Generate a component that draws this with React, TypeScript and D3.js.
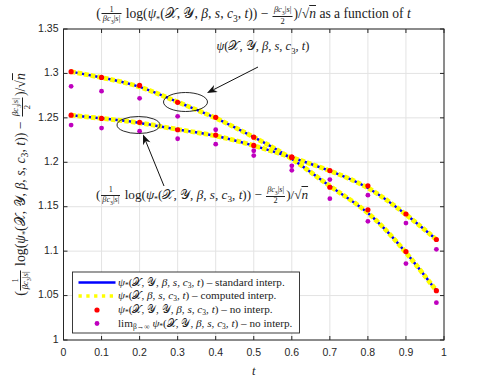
import React from 'react';
import * as d3 from 'd3';

// sample points in t
const tValues = [0.02, 0.1, 0.2, 0.3, 0.4, 0.5, 0.6, 0.7, 0.8, 0.9, 0.98];
// curve starting near 1.30 (falls faster)
const psiFast = [1.302, 1.2955, 1.2865, 1.2675, 1.2506, 1.2283, 1.2057, 1.1719, 1.1465, 1.0995, 1.0555];
const limFast = [1.2855, 1.280, 1.272, 1.2517, 1.2366, 1.213, 1.191, 1.159, 1.1336, 1.086, 1.042];
// curve starting near 1.25 (falls slower)
const psiSlow = [1.253, 1.2494, 1.245, 1.2366, 1.2306, 1.219, 1.2057, 1.1907, 1.1735, 1.1418, 1.1131];
const limSlow = [1.2419, 1.2385, 1.235, 1.2265, 1.2204, 1.2075, 1.196, 1.1805, 1.163, 1.1316, 1.102];

const xTicks = [0, 0.1, 0.2, 0.3, 0.4, 0.5, 0.6, 0.7, 0.8, 0.9, 1];
const yTicks = [1, 1.05, 1.1, 1.15, 1.2, 1.25, 1.3, 1.35];

const W = 491, H = 382;
const left = 63.5, right = 444, top = 29, bottom = 340;
const serif = '"Liberation Serif", "DejaVu Serif", serif';
const sans = '"Liberation Sans", Arial, sans-serif';

const x = d3.scaleLinear().domain([0, 1]).range([left, right]);
const y = d3.scaleLinear().domain([1, 1.35]).range([bottom, top]);

const line = d3.line<number>()
  .x((_, i) => x(tValues[i]))
  .y(d => y(d))
  .curve(d3.curveBasis);

// stacked fraction for the html math labels
const Frac = ({ num, den }: { num: React.ReactNode; den: React.ReactNode }) => (
  <span style={{ display: 'inline-flex', flexDirection: 'column', verticalAlign: 'middle', textAlign: 'center', fontSize: '0.62em', lineHeight: 1.05, margin: '0 1px' }}>
    <span style={{ borderBottom: '0.7px solid #222', padding: '0 1px' }}>{num}</span>
    <span style={{ padding: '0 1px' }}>{den}</span>
  </span>
);

const BC = () => <><i>βc</i><sub style={{ fontSize: '0.7em' }}>3</sub>|<i>s</i>|</>;

const MainExpr = () => (
  <span>
    (<Frac num="1" den={<BC />} /> log(<i>ψ</i><sub style={{ fontSize: '0.6em' }}>*</sub>(𝒳, 𝒴, <i>β</i>, <i>s</i>, <i>c</i><sub style={{ fontSize: '0.7em' }}>3</sub>, <i>t</i>)) − <Frac num={<BC />} den="2" />)/√<span style={{ textDecoration: 'overline' }}><i>n</i></span>
  </span>
);

const MathBox = ({ cx, cy, w, h, size, children, rotate }: any) => (
  <g transform={`translate(${cx},${cy})${rotate ? ` rotate(${rotate})` : ''}`}>
    <foreignObject x={-w / 2} y={-h / 2} width={w} height={h}>
      <div style={{ width: w, height: h, display: 'flex', alignItems: 'center', justifyContent: 'center', fontFamily: serif, fontSize: size, color: '#222', whiteSpace: 'nowrap' }}>
        {children}
      </div>
    </foreignObject>
  </g>
);

type Part = { s: string; it?: boolean; sub?: boolean };
const LegendText = ({ xPos, yPos, parts }: { xPos: number; yPos: number; parts: Part[] }) => {
  let shifted = false;
  return (
    <text x={xPos} y={yPos} fontFamily={serif} fontSize={11.2} fill="#222" dominantBaseline="middle">
      {parts.map((p, i) => {
        let dy = 0;
        if (p.sub && !shifted) { dy = 3; shifted = true; }
        else if (!p.sub && shifted) { dy = -3; shifted = false; }
        return (
          <tspan key={i} dy={dy} fontStyle={p.it ? 'italic' : 'normal'} fontSize={p.sub ? 7.5 : 11.2}>{p.s}</tspan>
        );
      })}
    </text>
  );
};

const args = (withY: number): Part[] => {
  const ys: Part[] = [];
  for (let k = 0; k < withY; k++) ys.push({ s: '𝒴' }, { s: ', ' });
  return [
    { s: 'ψ', it: true }, { s: '*', sub: true }, { s: '(' }, { s: '𝒳' }, { s: ', ' },
    ...ys,
    { s: 'β', it: true }, { s: ', ' }, { s: 's', it: true }, { s: ', ' }, { s: 'c', it: true }, { s: '3', sub: true },
    { s: ', ' }, { s: 't', it: true }, { s: ')' },
  ];
};

const legendRows: { parts: Part[] }[] = [
  { parts: [...args(1), { s: ' – standard interp.' }] },
  { parts: [...args(0), { s: ' – computed interp.' }] },
  { parts: [...args(2), { s: ' – no interp.' }] },
  { parts: [{ s: 'lim' }, { s: 'β→∞', sub: true }, { s: ' ' }, ...args(1), { s: ' – no interp.' }] },
];

const Arrow = ({ x1, y1, x2, y2 }: { x1: number; y1: number; x2: number; y2: number }) => {
  const a = Math.atan2(y2 - y1, x2 - x1);
  const L = 10, Wd = 4;
  const bx = x2 - L * Math.cos(a), by = y2 - L * Math.sin(a);
  const nx = -Math.sin(a), ny = Math.cos(a);
  const ix = x2 - 0.7 * L * Math.cos(a), iy = y2 - 0.7 * L * Math.sin(a);
  const head = `M${x2},${y2} L${bx + nx * Wd},${by + ny * Wd} L${ix},${iy} L${bx - nx * Wd},${by - ny * Wd} Z`;
  return (
    <g>
      <line x1={x1} y1={y1} x2={ix} y2={iy} stroke="#111" strokeWidth={1} />
      <path d={head} fill="#111" />
    </g>
  );
};

export default function App() {
  const curves = [psiFast, psiSlow];
  return (
    <svg width={W} height={H} style={{ position: 'absolute', left: 0, top: 0, background: '#fff' }}>
      <rect x={0} y={0} width={W} height={H} fill="#fff" />
      {/* grid */}
      {xTicks.map(t => (
        <line key={'gx' + t} x1={x(t)} x2={x(t)} y1={top} y2={bottom} stroke="#e3e3e3" strokeWidth={1} />
      ))}
      {yTicks.map(v => (
        <line key={'gy' + v} x1={left} x2={right} y1={y(v)} y2={y(v)} stroke="#e3e3e3" strokeWidth={1} />
      ))}

      {/* curves */}
      {curves.map((c, i) => (
        <g key={'c' + i}>
          <path d={line(c) || ''} fill="none" stroke="#0000ff" strokeWidth={2.5} />
          <path d={line(c) || ''} fill="none" stroke="#ffff00" strokeWidth={4.8} strokeDasharray="4.5 2.2" />
        </g>
      ))}

      {/* points */}
      {[psiFast, psiSlow].map((c, i) => c.map((v, j) => (
        <circle key={`r${i}-${j}`} cx={x(tValues[j])} cy={y(v)} r={2.6} fill="#ff0000" />
      )))}
      {[limFast, limSlow].map((c, i) => c.map((v, j) => (
        <circle key={`m${i}-${j}`} cx={x(tValues[j])} cy={y(v)} r={2.4} fill="#bf00bf" />
      )))}

      {/* annotations */}
      <ellipse cx={185.5} cy={102} rx={22} ry={9.5} fill="none" stroke="#111" strokeWidth={0.9} />
      <Arrow x1={258} y1={67} x2={207} y2={93} />
      <ellipse cx={138.5} cy={125} rx={21.5} ry={8.5} fill="none" stroke="#111" strokeWidth={0.9} />
      <Arrow x1={164} y1={186} x2={143} y2={134.5} />
      <MathBox cx={263} cy={47} w={160} h={20} size={12.5}>
        <span><i>ψ</i>(𝒳, 𝒴, <i>β</i>, <i>s</i>, <i>c</i><sub style={{ fontSize: '0.7em' }}>3</sub>, <i>t</i>)</span>
      </MathBox>
      <MathBox cx={202} cy={196} w={320} h={28} size={13.2}>
        <MainExpr />
      </MathBox>

      {/* axes box & ticks */}
      <rect x={left} y={top} width={right - left} height={bottom - top} fill="none" stroke="#262626" strokeWidth={1} />
      {xTicks.map(t => (
        <g key={'tx' + t}>
          <line x1={x(t)} x2={x(t)} y1={bottom} y2={bottom - 4} stroke="#262626" />
          <line x1={x(t)} x2={x(t)} y1={top} y2={top + 4} stroke="#262626" />
          <text x={x(t)} y={353} textAnchor="middle" dominantBaseline="middle" fontFamily={sans} fontSize={10.5} fill="#262626">{d3.format('~g')(t)}</text>
        </g>
      ))}
      {yTicks.map(v => (
        <g key={'ty' + v}>
          <line x1={left} x2={left + 4} y1={y(v)} y2={y(v)} stroke="#262626" />
          <line x1={right} x2={right - 4} y1={y(v)} y2={y(v)} stroke="#262626" />
          <text x={left - 5} y={y(v)} textAnchor="end" dominantBaseline="middle" fontFamily={sans} fontSize={10.5} fill="#262626">{d3.format('~g')(v)}</text>
        </g>
      ))}

      {/* legend */}
      <rect x={72.5} y={272} width={227} height={61} fill="#fff" stroke="#262626" strokeWidth={0.9} />
      <line x1={78.5} x2={115.5} y1={282.5} y2={282.5} stroke="#0000ff" strokeWidth={2.5} />
      <line x1={78.5} x2={115.5} y1={296} y2={296} stroke="#ffff00" strokeWidth={3.3} strokeDasharray="3.3 4.5" />
      <circle cx={97} cy={310} r={2.6} fill="#ff0000" />
      <circle cx={97} cy={323.5} r={2.4} fill="#bf00bf" />
      {legendRows.map((r, i) => (
        <LegendText key={'lg' + i} xPos={118} yPos={[282.5, 296, 310, 323.5][i]} parts={r.parts} />
      ))}

      {/* labels */}
      <text x={(left + right) / 2} y={372} textAnchor="middle" dominantBaseline="middle" fontFamily={serif} fontStyle="italic" fontSize={12.5} fill="#262626">t</text>
      <MathBox cx={253.5} cy={15} w={420} h={28} size={13.6}>
        <span><MainExpr /> as a function of <i>t</i></span>
      </MathBox>
      <MathBox cx={21} cy={184.5} w={320} h={30} size={13.8} rotate={-90}>
        <MainExpr />
      </MathBox>
    </svg>
  );
}
